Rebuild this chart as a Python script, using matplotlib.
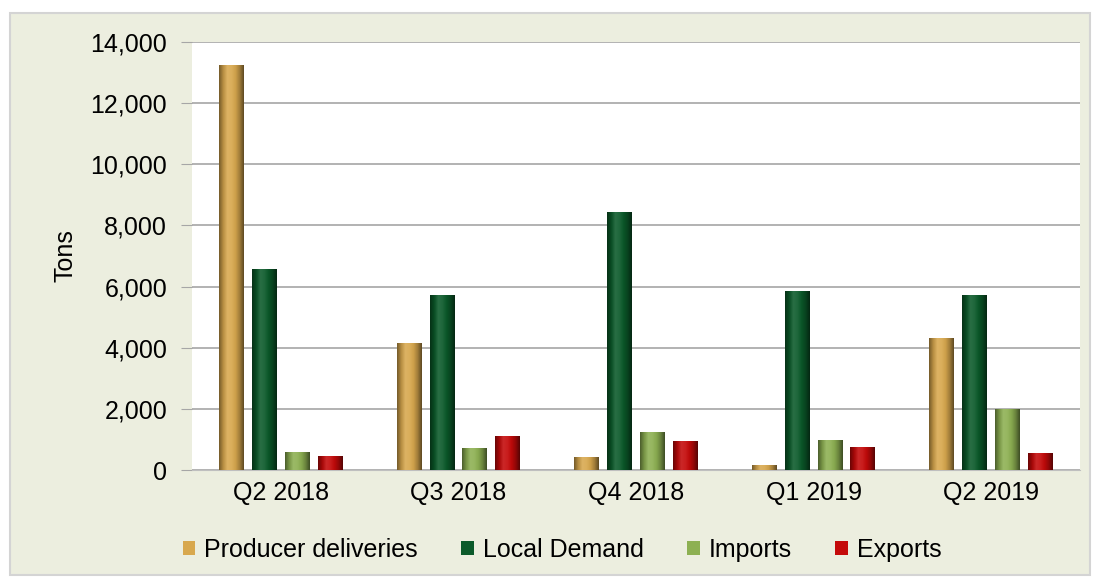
import numpy as np
import matplotlib.pyplot as plt
from matplotlib.patches import Rectangle, Patch
from matplotlib.colors import to_rgb
from matplotlib.ticker import FuncFormatter

plt.rcParams['font.family'] = ['Liberation Sans', 'DejaVu Sans']

quarters = ['Q2 2018', 'Q3 2018', 'Q4 2018', 'Q1 2019', 'Q2 2019']
series_names = ['Producer deliveries', 'Local Demand', 'Imports', 'Exports']
producer = [13250, 4150, 420, 160, 4320]
local_demand = [6575, 5725, 8440, 5850, 5725]
imports = [590, 720, 1240, 980, 2000]
exports = [460, 1110, 950, 750, 550]
colors = ['#D8A84E', '#0B5A2A', '#8DB052', '#C40A0A']


def shade(color, f):
    # f < 1 darkens, f > 1 lightens toward white
    c = np.array(to_rgb(color))
    if f <= 1:
        return c * f
    return c + (1 - c) * (f - 1)


def gradient_bar(ax, x0, w, h, color):
    # horizontal profile: dark edges, lit slightly left of centre
    prof = [0.55, 0.85, 1.12, 1.08, 0.95, 0.75, 0.45]
    cols = np.array([shade(color, f) for f in prof])
    xs = np.linspace(0, 1, len(prof))
    xi = np.linspace(0, 1, 40)
    img = np.stack([np.interp(xi, xs, cols[:, k]) for k in range(3)], axis=-1)
    img = img[np.newaxis, :, :]
    rect = Rectangle((x0, 0), w, h, facecolor='none', edgecolor='none')
    ax.add_patch(rect)
    im = ax.imshow(img, extent=(x0, x0 + w, 0, h), aspect='auto',
                   interpolation='bilinear', zorder=3)
    im.set_clip_path(rect)


fig = plt.figure(figsize=(10.96, 5.77), dpi=100)
fig.patch.set_facecolor('white')
fig.patches.append(Rectangle((10 / 1096, 2 / 577), 1080 / 1096, 562 / 577,
                             transform=fig.transFigure, facecolor='#ECEEDF',
                             edgecolor='#D4D4D4', linewidth=1.5, zorder=-10))

ax = fig.add_axes([192 / 1096, 1 - 470 / 577, 888 / 1096, 428 / 577])
ax.set_facecolor('white')

data = [producer, local_demand, imports, exports]
width = 0.14
step = 0.185
x = np.arange(len(quarters))
for i, (vals, c) in enumerate(zip(data, colors)):
    offs = (i - 1.5) * step
    for xi, v in zip(x, vals):
        gradient_bar(ax, xi + offs - width / 2, width, v, c)

ax.set_xlim(-0.5, len(quarters) - 0.5)
ax.set_ylim(0, 14000)
ax.set_yticks(np.arange(0, 14001, 2000))
ax.yaxis.set_major_formatter(FuncFormatter(lambda v, p: f'{int(v):,}'))
ax.set_xticks(x)
ax.set_xticklabels(quarters)
ax.grid(axis='y', color='#A6A6A6', linewidth=1.2, zorder=0)
ax.set_axisbelow(True)
for s in ['top', 'right', 'left']:
    ax.spines[s].set_visible(False)
ax.spines['bottom'].set_color('#BFBFBF')
ax.tick_params(axis='y', length=8, color='#A6A6A6', labelsize=18, pad=10)
ax.tick_params(axis='x', length=0, labelsize=18, pad=8)
ax.set_ylabel('Tons', fontsize=18, labelpad=9)

handles = [Patch(facecolor=c, edgecolor='none') for c in colors]
fig.legend(handles, series_names, loc='center', bbox_to_anchor=(562 / 1096, 1 - 550 / 577),
           ncol=4, frameon=False, fontsize=18, handlelength=0.5, handleheight=0.5,
           handletextpad=0.35, columnspacing=1.75)

fig.savefig('out.png', dpi=100, facecolor=fig.get_facecolor())
